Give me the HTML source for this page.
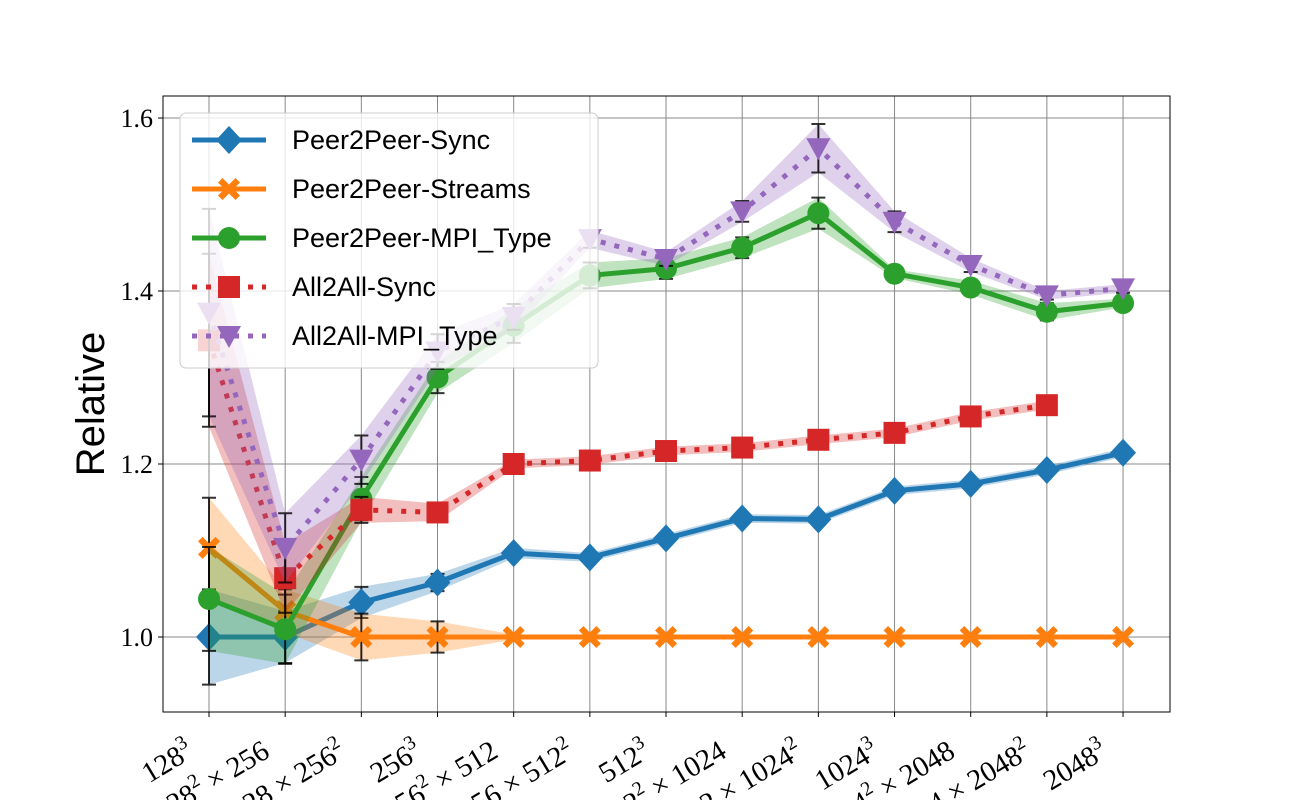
<!DOCTYPE html>
<html><head><meta charset="utf-8"><style>body{margin:0;background:#fff}svg{display:block}</style></head>
<body>
<svg id="chart" width="1300" height="800" xmlns="http://www.w3.org/2000/svg" font-family="'Liberation Serif', serif">
<g id="grid"></g>
<g id="series"></g>
<g id="axes"></g>
<g id="legend"></g>
</svg>
<script>
const categories = [["128","3",""],["128","2"," × 256"],["128 × 256","2",""],["256","3",""],["256","2"," × 512"],["256 × 512","2",""],["512","3",""],["512","2"," × 1024"],["512 × 1024","2",""],["1024","3",""],["1024","2"," × 2048"],["1024 × 2048","2",""],["2048","3",""]];
const syncVals = [1.0,1.0,1.04,1.063,1.097,1.092,1.114,1.137,1.136,1.169,1.177,1.193,1.213];
const syncErr = [0.055,0.03,0.018,0.01,0.006,0.005,0.005,0.005,0.005,0.005,0.005,0.005,0.005];
const streamsVals = [1.103,1.03,1.0,1.0,1.0,1.0,1.0,1.0,1.0,1.0,1.0,1.0,1.0];
const streamsErr = [0.058,0.025,0.027,0.018,0.003,0,0,0,0,0,0,0,0];
const mpiVals = [1.044,1.009,1.16,1.30,1.36,1.418,1.426,1.45,1.49,1.42,1.404,1.376,1.386];
const mpiErr = [0.06,0.04,0.025,0.018,0.02,0.015,0.012,0.012,0.018,0.005,0.008,0.01,0.005];
const a2aSyncVals = [1.343,1.068,1.147,1.144,1.2,1.204,1.215,1.219,1.228,1.236,1.255,1.268];
const a2aSyncErr = [0.1,0.04,0.015,0.01,0.005,0.005,0.005,0.005,0.005,0.005,0.005,0.005];
const a2aMpiVals = [1.375,1.103,1.205,1.33,1.37,1.46,1.437,1.492,1.565,1.48,1.43,1.395,1.403];
const a2aMpiErr = [0.12,0.04,0.028,0.02,0.015,0.01,0.008,0.012,0.028,0.012,0.008,0.005,0.005];
const yTicks = [1.0,1.2,1.4,1.6];
const yTickLabels = ["1.0","1.2","1.4","1.6"];

const NS="http://www.w3.org/2000/svg";
const L=163,R=1170,T=96,B=712;
const x=i=>209+i*76.17;
const y=v=>637-(v-1)*865;
function mk(tag,attrs,parent){const e=document.createElementNS(NS,tag);for(const k in attrs)e.setAttribute(k,attrs[k]);parent.appendChild(e);return e;}
const grid=document.getElementById('grid'),ser=document.getElementById('series'),axes=document.getElementById('axes'),leg=document.getElementById('legend');

categories.forEach((c,i)=>{const l=mk('line',{x1:x(i),x2:x(i),y1:T,y2:B,stroke:'#888','stroke-width':1},grid);

});
yTicks.forEach(v=>{const l=mk('line',{x1:L,x2:R,y1:y(v),y2:y(v),stroke:'#888','stroke-width':1},grid);

});

const seriesDefs=[
 {name:'Peer2Peer-Sync',vals:syncVals,err:syncErr,color:'#1f77b4',dash:null,marker:'diamond'},
 {name:'Peer2Peer-Streams',vals:streamsVals,err:streamsErr,color:'#ff7f0e',dash:null,marker:'x'},
 {name:'Peer2Peer-MPI_Type',vals:mpiVals,err:mpiErr,color:'#2ca02c',dash:null,marker:'circle'},
 {name:'All2All-Sync',vals:a2aSyncVals,err:a2aSyncErr,color:'#d62728',dash:'5 9',marker:'square'},
 {name:'All2All-MPI_Type',vals:a2aMpiVals,err:a2aMpiErr,color:'#9467bd',dash:'5 9',marker:'tri'}];

function marker(type,cx,cy,color,parent){
 let e;
 if(type==='diamond')e=mk('polygon',{points:`${cx},${cy-14} ${cx+13},${cy} ${cx},${cy+14} ${cx-13},${cy}`,fill:color},parent);
 else if(type==='circle')e=mk('circle',{cx,cy,r:11,fill:color},parent);
 else if(type==='square')e=mk('rect',{x:cx-11,y:cy-11,width:22,height:22,fill:color},parent);
 else if(type==='tri')e=mk('polygon',{points:`${cx-12},${cy-10} ${cx+12},${cy-10} ${cx},${cy+12}`,fill:color},parent);
 else {const s=11,w=4.5;e=mk('path',{d:`M${cx-s},${cy-s+w}L${cx-s+w},${cy-s}L${cx},${cy-w}L${cx+s-w},${cy-s}L${cx+s},${cy-s+w}L${cx+w},${cy}L${cx+s},${cy+s-w}L${cx+s-w},${cy+s}L${cx},${cy+w}L${cx-s+w},${cy+s}L${cx-s},${cy+s-w}L${cx-w},${cy}Z`,fill:color},parent);}
 return e;
}

seriesDefs.forEach(s=>{
 const g=mk('g',{},ser);
 
 
 const up=s.vals.map((v,i)=>`${x(i)},${y(v+s.err[i])}`);
 const dn=s.vals.map((v,i)=>`${x(i)},${y(v-s.err[i])}`).reverse();
 const band=mk('polygon',{points:up.concat(dn).join(' '),fill:s.color,'fill-opacity':0.3},g);
 
 
 s.vals.forEach((v,i)=>{if(s.err[i]>0.004){
  const eb=mk('path',{d:`M${x(i)},${y(v+s.err[i])}V${y(v-s.err[i])}M${x(i)-7},${y(v+s.err[i])}h14M${x(i)-7},${y(v-s.err[i])}h14`,stroke:'#000','stroke-width':2,'stroke-opacity':0.8,fill:'none'},g);
  
  }});
 const ln=mk('polyline',{points:s.vals.map((v,i)=>`${x(i)},${y(v)}`).join(' '),fill:'none',stroke:s.color,'stroke-width':5,'stroke-linejoin':'round'},g);
 if(s.dash)ln.setAttribute('stroke-dasharray',s.dash);
 
 
 s.vals.forEach((v,i)=>{const m=marker(s.marker,x(i),y(v),s.color,g);
  
  });
});

const frame=mk('rect',{x:L,y:T,width:R-L,height:B-T,fill:'none',stroke:'#000','stroke-width':1},axes);


yTicks.forEach((v,i)=>{mk('line',{x1:L-5,x2:L,y1:y(v),y2:y(v),stroke:'#000'},axes);
 const t=mk('text',{x:L-10,y:y(v)+9,'text-anchor':'end','font-size':26},axes);t.textContent=yTickLabels[i];
 
 });
categories.forEach((c,i)=>{mk('line',{x1:x(i),x2:x(i),y1:B,y2:B+5,stroke:'#000'},axes);
 const ax=x(i)-14,ay=756;
 const t=mk('text',{x:ax,y:ay,'text-anchor':'end','font-size':29,transform:`rotate(-31 ${ax} ${ay})`},axes);
 const a=mk('tspan',{},t);a.textContent=c[0];
 const b=mk('tspan',{dy:-12,'font-size':20},t);b.textContent=c[1];
 if(c[2]){const d=mk('tspan',{dy:12},t);d.textContent=c[2];}
 
 });
const yl=mk('text',{x:104,y:404,'text-anchor':'middle','font-size':40,'font-family':"'Liberation Sans', sans-serif",transform:'rotate(-90 104 404)'},axes);
yl.textContent='Relative';



const box=mk('rect',{x:180,y:113,width:418,height:255,rx:6,fill:'#fff','fill-opacity':0.8,stroke:'#ccc'},leg);


seriesDefs.forEach((s,i)=>{const cy=140+i*49;
 const g=mk('g',{},leg);
 
 
 const l=mk('line',{x1:192,x2:266,y1:cy,y2:cy,stroke:s.color,'stroke-width':5},g);
 if(s.dash)l.setAttribute('stroke-dasharray',s.dash);
 marker(s.marker,229,cy,s.color,g);
 const t=mk('text',{x:292,y:cy+9,'font-size':27,'font-family':"'Liberation Sans', sans-serif"},g);t.textContent=s.name;});
</script>
</body></html>
